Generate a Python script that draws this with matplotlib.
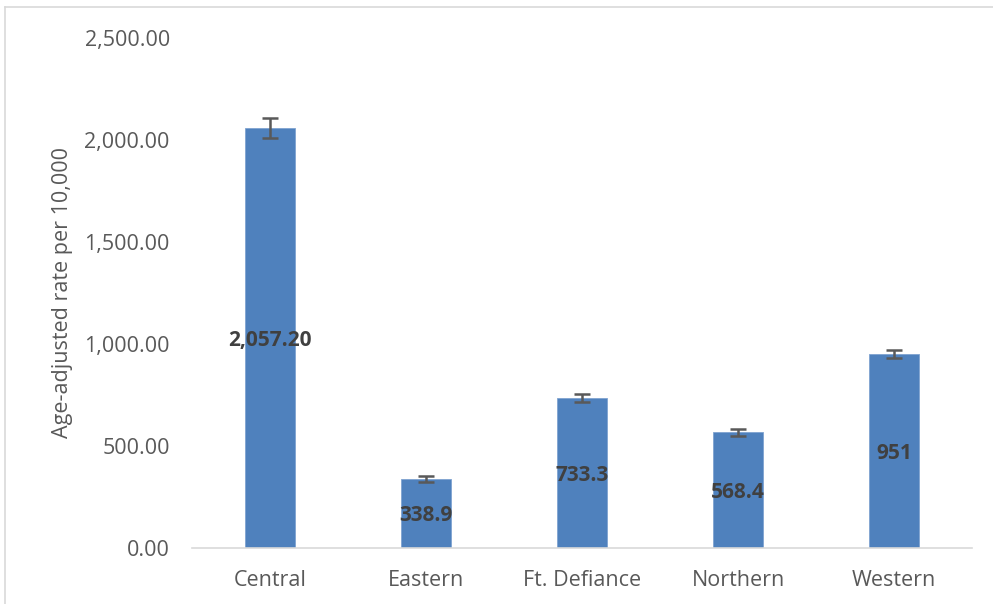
import matplotlib.pyplot as plt
from matplotlib.lines import Line2D

plt.rcParams['font.family'] = ['Open Sans', 'DejaVu Sans']

# data
regions = ["Central", "Eastern", "Ft. Defiance", "Northern", "Western"]
rates = [2057.20, 338.9, 733.3, 568.4, 951]
errors = [49, 13, 20, 17, 19]
labels = ["2,057.20", "338.9", "733.3", "568.4", "951"]
y_ticks = [0, 500, 1000, 1500, 2000, 2500]

fig = plt.figure(figsize=(9.93, 6.04), dpi=100)
ax = fig.add_axes([192 / 993, 1 - 548 / 604, 780 / 993, 510 / 604])

x = range(len(regions))
ax.bar(x, rates, width=0.32, color="#4f81bd", edgecolor="#7fa3d0",
       linewidth=0.6, zorder=2)
ax.errorbar(x, rates, yerr=errors, fmt="none", ecolor="#595959",
            elinewidth=1.8, capsize=6, capthick=1.8, zorder=3)

for xi, v, lab in zip(x, rates, labels):
    ax.text(xi, v / 2 - 12, lab, ha="center", va="center", fontsize=15,
            fontweight="bold", color="#404040", zorder=4)

ax.set_xlim(-0.5, len(regions) - 0.5)
ax.set_ylim(0, 2500)
ax.set_xticks(list(x))
ax.set_xticklabels(regions)
ax.set_yticks(y_ticks)
ax.set_yticklabels([f"{t:,.2f}" for t in y_ticks])
ax.tick_params(axis="both", length=0, labelsize=15.5, colors="#595959")
ax.tick_params(axis="x", pad=16)
ax.tick_params(axis="y", pad=16)
ax.set_ylabel("Age-adjusted rate per 10,000", fontsize=15.5, color="#595959",
              labelpad=8)

for side in ["top", "right", "left"]:
    ax.spines[side].set_visible(False)
ax.spines["bottom"].set_color("#d9d9d9")
ax.spines["bottom"].set_linewidth(1.2)

# chart area border
fig.add_artist(Line2D([5 / 993, 5 / 993], [0, 1 - 7 / 604],
                      color="#d9d9d9", linewidth=1.2))
fig.add_artist(Line2D([5 / 993, 1], [1 - 7 / 604, 1 - 7 / 604],
                      color="#d9d9d9", linewidth=1.2))

fig.savefig("out.png", dpi=100)
